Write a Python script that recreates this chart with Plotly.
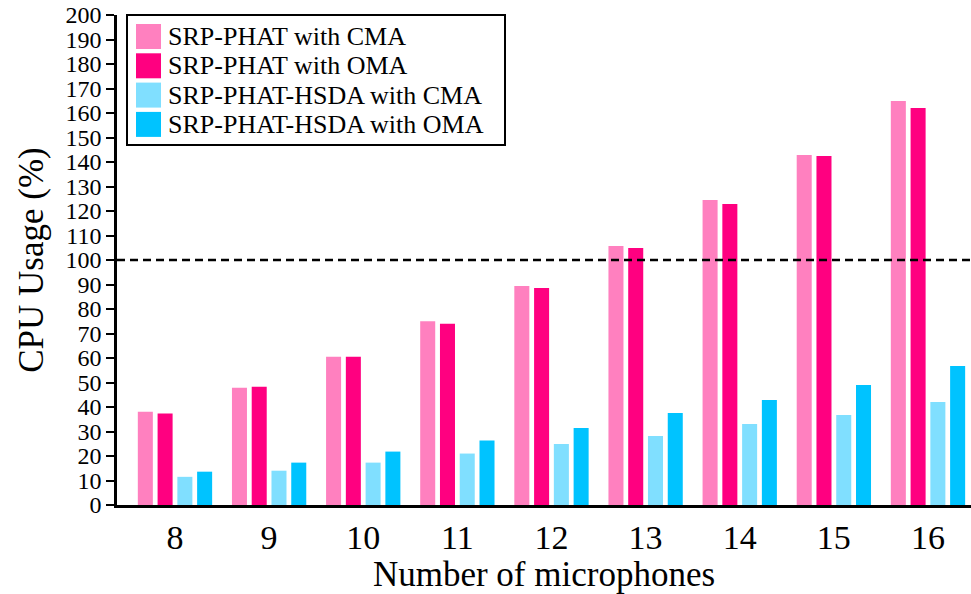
import plotly.graph_objects as go

mics = [8, 9, 10, 11, 12, 13, 14, 15, 16]
srp_cma = [38.1, 47.9, 60.5, 75.0, 89.4, 105.7, 124.5, 142.9, 164.9]
srp_oma = [37.3, 48.3, 60.5, 74.0, 88.6, 104.9, 122.9, 142.4, 162.0]
hsda_cma = [11.5, 14.0, 17.3, 21.0, 24.9, 28.2, 33.1, 36.7, 42.0]
hsda_oma = [13.6, 17.3, 21.8, 26.3, 31.4, 37.6, 42.9, 49.0, 56.7]
names = ["SRP-PHAT with CMA", "SRP-PHAT with OMA",
         "SRP-PHAT-HSDA with CMA", "SRP-PHAT-HSDA with OMA"]
colors = ["#FF80BF", "#FF0080", "#80DFFF", "#00C3FF"]
yticks = list(range(0, 201, 10))
threshold = 100

FONT = "Liberation Serif"
W, H = 971, 594
ML, MR, MT, MB = 117, 0, 15, 89
PW, PH = W - ML - MR, H - MT - MB


def px(x):
    return (x - ML) / PW


def py(y):
    return (H - MB - y) / PH


fig = go.Figure()
for name, vals, c in zip(names, [srp_cma, srp_oma, hsda_cma, hsda_oma], colors):
    fig.add_trace(go.Bar(x=mics, y=vals, name=name, showlegend=False,
                         marker=dict(color=c, line=dict(width=0))))

fig.add_shape(type="line", xref="paper", x0=0, x1=1, yref="y", y0=threshold, y1=threshold,
              line=dict(color="black", width=2.5, dash="8px,5px"))

# custom legend (larger swatches, like the reference)
fig.add_shape(type="rect", xref="paper", yref="paper",
              x0=px(127), x1=px(505), y0=py(145), y1=py(15),
              line=dict(color="black", width=2), fillcolor="white", layer="above")
for i, (name, c) in enumerate(zip(names, colors)):
    top = 24 + i * 29.3
    fig.add_shape(type="rect", xref="paper", yref="paper",
                  x0=px(136), x1=px(161), y0=py(top + 25), y1=py(top),
                  line=dict(width=0), fillcolor=c, layer="above")
    fig.add_annotation(xref="paper", yref="paper", x=px(166), y=py(top + 12.5),
                       xanchor="left", yanchor="middle", text=name, showarrow=False,
                       font=dict(size=26, family=FONT, color="black"))

fig.update_layout(
    width=W, height=H,
    margin=dict(l=ML, r=MR, t=MT, b=MB),
    paper_bgcolor="white", plot_bgcolor="white",
    barmode="group", bargap=0.16, bargroupgap=0.24,
    font=dict(family=FONT, color="black"),
    showlegend=False,
    xaxis=dict(range=[7.384, 16.457], tickmode="array", tickvals=mics,
               ticktext=[str(m) for m in mics], showgrid=False, zeroline=False,
               showline=True, linecolor="black", linewidth=2.5, ticks="",
               tickfont=dict(size=34), title=dict(text="Number of microphones",
               font=dict(size=35), standoff=2)),
    yaxis=dict(range=[0, 200], tickmode="array", tickvals=yticks,
               showgrid=False, zeroline=False, showline=True, linecolor="black",
               linewidth=2.5, ticks="outside", ticklen=8, tickwidth=2,
               tickcolor="black", tickfont=dict(size=24),
               title=dict(text="CPU Usage (%)", font=dict(size=35), standoff=12)),
)

fig.write_html("out.html")
